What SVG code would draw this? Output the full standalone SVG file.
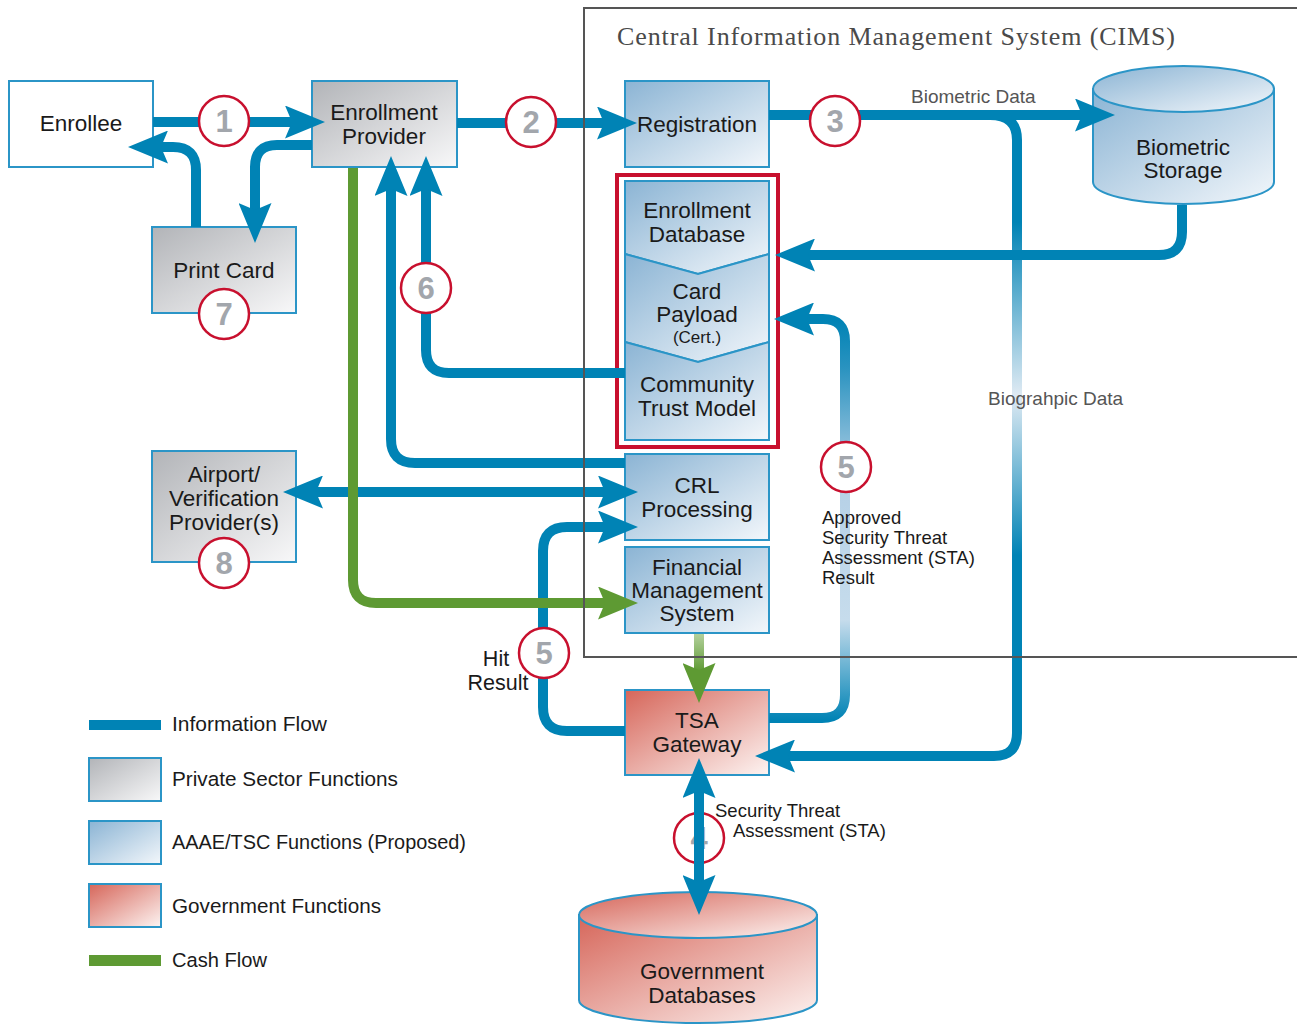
<svg xmlns="http://www.w3.org/2000/svg" width="1297" height="1025" viewBox="0 0 1297 1025">
<defs>
<linearGradient id="gGray" x1="0" y1="0" x2="1" y2="1"><stop offset="0" stop-color="#b2b4b8"/><stop offset="1" stop-color="#f8f8f9"/></linearGradient>
<linearGradient id="gBlue" x1="0" y1="0" x2="1" y2="1"><stop offset="0" stop-color="#8bb4d4"/><stop offset="1" stop-color="#f3f7fb"/></linearGradient>
<linearGradient id="gRed" x1="0" y1="0" x2="1" y2="1"><stop offset="0" stop-color="#d6665a"/><stop offset="1" stop-color="#fdf4f2"/></linearGradient>
<linearGradient id="gBio" gradientUnits="userSpaceOnUse" x1="0" y1="120" x2="0" y2="760"><stop offset="0" stop-color="#0083b5"/><stop offset="0.16" stop-color="#0083b5"/><stop offset="0.43" stop-color="#dfeaf3"/><stop offset="0.68" stop-color="#0083b5"/><stop offset="1" stop-color="#0083b5"/></linearGradient>
<linearGradient id="gSta" gradientUnits="userSpaceOnUse" x1="0" y1="320" x2="0" y2="720"><stop offset="0" stop-color="#0083b5"/><stop offset="0.12" stop-color="#2a93c0"/><stop offset="0.4" stop-color="#b5d0e6"/><stop offset="0.75" stop-color="#c6dcec"/><stop offset="1" stop-color="#0083b5"/></linearGradient>
<linearGradient id="gGreen" gradientUnits="userSpaceOnUse" x1="0" y1="634" x2="0" y2="672"><stop offset="0" stop-color="#b3d09c"/><stop offset="1" stop-color="#5e9a33"/></linearGradient>
<marker id="ah" markerUnits="userSpaceOnUse" markerWidth="40" markerHeight="33" refX="7" refY="16.5" orient="auto-start-reverse"><path d="M0,0 L40,16.5 L0,33 L7,16.5 Z" fill="#0083b5"/></marker>
<marker id="ahg" markerUnits="userSpaceOnUse" markerWidth="40" markerHeight="33" refX="7" refY="16.5" orient="auto-start-reverse"><path d="M0,0 L40,16.5 L0,33 L7,16.5 Z" fill="#5e9a33"/></marker>
<style>
.box{stroke:#2b95c7;stroke-width:2}
.t{font-family:"Liberation Sans",Arial,sans-serif;font-size:22.5px;fill:#1a1a1a;text-anchor:middle}
.lbl{font-family:"Liberation Sans",Arial,sans-serif;font-size:18.5px;fill:#1a1a1a}
.glbl{font-family:"Liberation Sans",Arial,sans-serif;font-size:19px;fill:#555}
.leg{font-family:"Liberation Sans",Arial,sans-serif;font-size:20.5px;fill:#1a1a1a}
.c{fill:none;stroke:#0083b5;stroke-width:10}
.cg{fill:none;stroke:#5e9a33;stroke-width:10}
.badge circle{fill:#fff;stroke:#c8102e;stroke-width:2.5}
.badge text{font-family:"Liberation Sans",Arial,sans-serif;font-size:31px;font-weight:bold;fill:#a2a6ac;text-anchor:middle}
</style>
</defs>
<rect width="1297" height="1025" fill="#fff"/>

<g id="enrollee"><rect class="box" x="9" y="81" width="144" height="86" fill="#fff"/><text class="t" x="81" y="131">Enrollee</text></g>
<g id="enrollment-provider"><rect class="box" x="312" y="81" width="145" height="86" fill="url(#gGray)"/><text class="t" x="384" y="120">Enrollment</text><text class="t" x="384" y="144">Provider</text></g>
<g id="print-card"><rect class="box" x="152" y="227" width="144" height="86" fill="url(#gGray)"/><text class="t" x="224" y="278">Print Card</text></g>
<g id="airport"><rect class="box" x="152" y="451" width="144" height="111" fill="url(#gGray)"/><text class="t" x="224" y="482">Airport/</text><text class="t" x="224" y="506">Verification</text><text class="t" x="224" y="530">Provider(s)</text></g>
<g id="registration"><rect class="box" x="625" y="81" width="144" height="86" fill="url(#gBlue)"/><text class="t" x="697" y="132">Registration</text></g>
<g id="enrollment-stack">
<rect x="617" y="175" width="161" height="272" fill="none" stroke="#c8102e" stroke-width="4"/>
<polygon class="box" points="625,181 769,181 769,254 698,274 625,254" fill="url(#gBlue)"/>
<polygon class="box" points="625,254 698,274 769,254 769,342 698,362 625,342" fill="url(#gBlue)"/>
<polygon class="box" points="625,342 698,362 769,342 769,440 625,440" fill="url(#gBlue)"/>
<text class="t" x="697" y="218">Enrollment</text><text class="t" x="697" y="242">Database</text>
<text class="t" x="697" y="299">Card</text><text class="t" x="697" y="322">Payload</text><text class="t" x="697" y="343" style="font-size:17px">(Cert.)</text>
<text class="t" x="697" y="392">Community</text><text class="t" x="697" y="416">Trust Model</text>
</g>
<g id="crl"><rect class="box" x="625" y="454" width="144" height="86" fill="url(#gBlue)"/><text class="t" x="697" y="493">CRL</text><text class="t" x="697" y="517">Processing</text></g>
<g id="fms"><rect class="box" x="625" y="547" width="144" height="86" fill="url(#gBlue)"/><text class="t" x="697" y="575">Financial</text><text class="t" x="697" y="598">Management</text><text class="t" x="697" y="621">System</text></g>
<g id="tsa"><rect class="box" x="625" y="690" width="144" height="85" fill="url(#gRed)"/><text class="t" x="697" y="728">TSA</text><text class="t" x="697" y="752">Gateway</text></g>
<g id="biometric-storage">
<path class="box" d="M1093,89 V182 A90.5,22 0 0 0 1274,182 V89 Z" fill="url(#gBlue)"/>
<ellipse class="box" cx="1183.5" cy="89" rx="90.5" ry="23" fill="url(#gBlue)"/>
<text class="t" x="1183" y="155">Biometric</text><text class="t" x="1183" y="178">Storage</text>
</g>
<g id="government-databases">
<path class="box" d="M579,915 V1000 A119,23 0 0 0 817,1000 V915 Z" fill="url(#gRed)"/>
<ellipse class="box" cx="698" cy="915" rx="119" ry="23" fill="url(#gRed)"/>
<text class="t" x="702" y="979">Government</text><text class="t" x="702" y="1003">Databases</text>
</g>

<g id="badge4" class="badge"><circle cx="699" cy="838" r="25"/><text x="699" y="849">4</text></g>

<g id="connectors">
<path class="c" d="M153,122 H292" marker-end="url(#ah)"/>
<path class="c" d="M312,145 H277 Q255,145 255,167 V210" marker-end="url(#ah)"/>
<path class="c" d="M196,227 V170 Q196,147 173,147 H161" marker-end="url(#ah)"/>
<path class="c" d="M457,123 H604" marker-end="url(#ah)"/>
<path class="c" style="stroke:url(#gBio)" d="M990,115 Q1017,115 1017,140 V733 Q1017,756 994,756 H788" marker-end="url(#ah)"/>
<path class="c" d="M769,115 H1082" marker-end="url(#ah)"/>
<path class="c" d="M1182,205 V232 Q1182,255 1159,255 H808" marker-end="url(#ah)"/>
<path class="c" style="stroke:url(#gSta)" d="M769,718 H822 Q845,718 845,695 V341 Q845,319 823,319 H807" marker-end="url(#ah)"/>
<path class="c" d="M625,373 H449 Q426,373 426,350 V189" marker-end="url(#ah)"/>
<path class="c" d="M625,463 H415 Q391,463 391,439 V189" marker-end="url(#ah)"/>
<path class="c" d="M316,492 H605" marker-start="url(#ah)" marker-end="url(#ah)"/>
<path class="c" d="M625,731 H567 Q543,731 543,707 V551 Q543,527 567,527 H605" marker-end="url(#ah)"/>
<path class="c" d="M699,791 V882" marker-start="url(#ah)" marker-end="url(#ah)"/>
<path class="cg" d="M353,168 V580 Q353,603 376,603 H605" marker-end="url(#ahg)"/>
<path class="cg" style="stroke:url(#gGreen)" d="M699,634 V670" marker-end="url(#ahg)"/>
</g>

<g id="cims">
<path d="M1300,8 H584 V657 H1300" fill="none" stroke="#555" stroke-width="2"/>
<text x="617" y="45" font-family="'Liberation Serif','Times New Roman',serif" font-size="26" fill="#4a4a4a" textLength="558" lengthAdjust="spacing">Central Information Management System (CIMS)</text>
</g>

<g id="badges" class="badge">
<g><circle cx="224" cy="121" r="25"/><text x="224" y="132">1</text></g>
<g><circle cx="531" cy="122" r="25"/><text x="531" y="133">2</text></g>
<g><circle cx="835" cy="121" r="25"/><text x="835" y="132">3</text></g>
<g><circle cx="426" cy="288" r="25"/><text x="426" y="299">6</text></g>
<g><circle cx="224" cy="314" r="25"/><text x="224" y="325">7</text></g>
<g><circle cx="224" cy="563" r="25"/><text x="224" y="574">8</text></g>
<g><circle cx="846" cy="467" r="25"/><text x="846" y="478">5</text></g>
<g><circle cx="544" cy="653" r="25"/><text x="544" y="664">5</text></g>
</g>

<g id="labels">
<text class="glbl" x="911" y="103">Biometric Data</text>
<text class="glbl" x="988" y="405">Biograhpic Data</text>
<text class="lbl" x="822" y="524">Approved</text>
<text class="lbl" x="822" y="544">Security Threat</text>
<text class="lbl" x="822" y="564">Assessment (STA)</text>
<text class="lbl" x="822" y="584">Result</text>
<text class="lbl" x="715" y="817">Security Threat</text>
<text class="lbl" x="733" y="837">Assessment (STA)</text>
<text class="t" x="496" y="666" style="font-size:21.5px">Hit</text>
<text class="t" x="498" y="690" style="font-size:21.5px">Result</text>
</g>

<g id="legend">
<rect x="89" y="720" width="72" height="10" fill="#0083b5"/>
<text class="leg" x="172" y="731" textLength="155" lengthAdjust="spacingAndGlyphs">Information Flow</text>
<rect class="box" x="89" y="758" width="72" height="43" fill="url(#gGray)"/>
<text class="leg" x="172" y="786" textLength="226" lengthAdjust="spacingAndGlyphs">Private Sector Functions</text>
<rect class="box" x="89" y="821" width="72" height="43" fill="url(#gBlue)"/>
<text class="leg" x="172" y="849" textLength="294" lengthAdjust="spacingAndGlyphs">AAAE/TSC Functions (Proposed)</text>
<rect class="box" x="89" y="884" width="72" height="43" fill="url(#gRed)"/>
<text class="leg" x="172" y="913" textLength="209" lengthAdjust="spacingAndGlyphs">Government Functions</text>
<rect x="89" y="955" width="72" height="11" fill="#5e9a33"/>
<text class="leg" x="172" y="967" textLength="95" lengthAdjust="spacingAndGlyphs">Cash Flow</text>
</g>
</svg>
